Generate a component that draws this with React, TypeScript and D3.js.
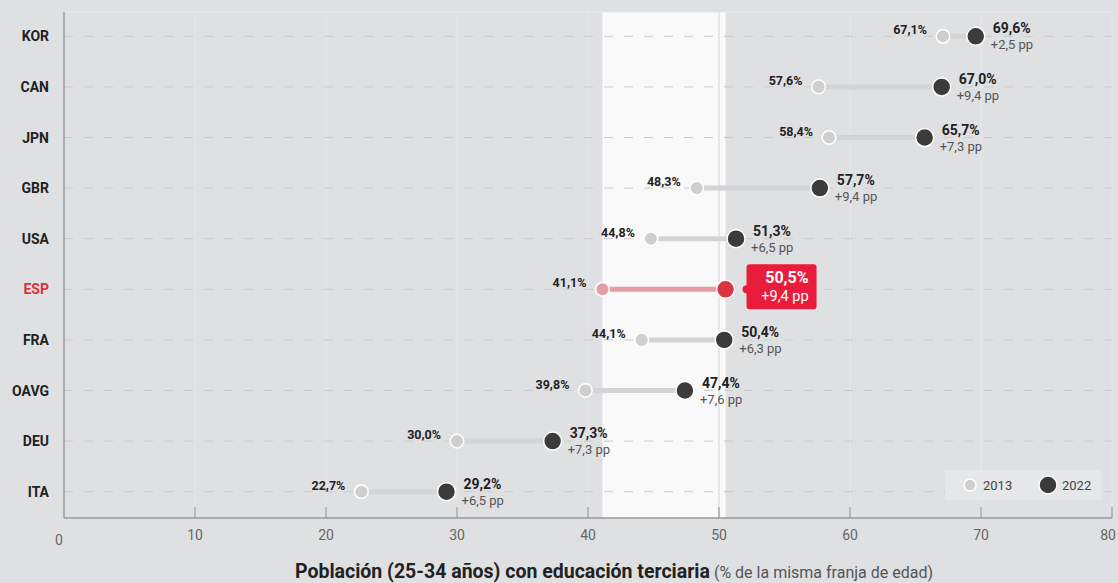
import React from "react";
import * as d3 from "d3";

const countries = ["KOR", "CAN", "JPN", "GBR", "USA", "ESP", "FRA", "OAVG", "DEU", "ITA"];
const values2013 = [67.1, 57.6, 58.4, 48.3, 44.8, 41.1, 44.1, 39.8, 30.0, 22.7];
const values2022 = [69.6, 67.0, 65.7, 57.7, 51.3, 50.5, 50.4, 47.4, 37.3, 29.2];
const deltas = [2.5, 9.4, 7.3, 9.4, 6.5, 9.4, 6.3, 7.6, 7.3, 6.5];
const xTicks = [0, 10, 20, 30, 40, 50, 60, 70, 80];
const highlight = "ESP";

const W = 1118;
const H = 583;
const FONT = "Roboto, 'Noto Sans', sans-serif";
const fmt = (v: number) => v.toFixed(1).replace(".", ",");

export default function App() {
  const x = d3.scaleLinear().domain([0, 80]).range([64, 1112]);
  const y = d3.scaleBand().domain(countries).range([11, 517]);
  const cy = (c: string) => (y(c) as number) + y.bandwidth() / 2;
  const top = 12;
  const bottom = 518;
  const hi = countries.indexOf(highlight);
  const last = xTicks[xTicks.length - 1];

  return (
    <svg width={W} height={H} style={{ position: "absolute", left: 0, top: 0, background: "#dfe0e2", fontFamily: FONT }}>
      <rect x={0} y={0} width={W} height={H} fill="#dfe0e2" />
      {/* highlight band */}
      <rect x={x(values2013[hi])} y={top} width={x(values2022[hi]) - x(values2013[hi])} height={bottom - top} fill="#f9f9fa" />
      {/* grid */}
      <line x1={x(0)} x2={x(80)} y1={top} y2={top} stroke="#e6e7e9" strokeWidth={1} />
      {xTicks.map((t) => (
        <line key={"g" + t} x1={x(t)} x2={x(t)} y1={top} y2={bottom} stroke="#e6e7e9" strokeWidth={1} />
      ))}
      <line x1={x(50)} x2={x(50)} y1={top} y2={bottom} stroke="#e3e4e6" strokeWidth={1.5} />
      {countries.map((c) => (
        <line key={"d" + c} x1={x(0)} x2={x(80)} y1={cy(c)} y2={cy(c)} stroke="#cacbcd" strokeWidth={1} strokeDasharray="9,11" />
      ))}
      {/* axes */}
      <line x1={x(0)} x2={x(0)} y1={top} y2={bottom} stroke="#9a9a9a" strokeWidth={1.5} />
      <line x1={x(0)} x2={x(80)} y1={bottom} y2={bottom} stroke="#9a9a9a" strokeWidth={1.5} />
      {xTicks.map((t) => (
        <g key={"t" + t}>
          {t > 0 && <line x1={x(t)} x2={x(t)} y1={bottom - 11} y2={bottom} stroke="#9a9a9a" strokeWidth={1.2} />}
          <text
            x={t === 0 ? x(t) - 5 : t === last ? x(t) + 4 : x(t)}
            y={t === 0 ? 545 : 540}
            textAnchor={t === last ? "end" : "middle"}
            fontSize={14}
            fill="#666"
          >
            {t}
          </text>
        </g>
      ))}
      {/* y labels */}
      {countries.map((c) => (
        <text key={"y" + c} x={49} y={cy(c) + 5} textAnchor="end" fontSize={14} fontWeight="bold" fill={c === highlight ? "#e0303c" : "#222"}>
          {c}
        </text>
      ))}
      {/* dumbbells */}
      {countries.map((c, i) => {
        const isHi = c === highlight;
        const yy = cy(c);
        const x1 = x(values2013[i]);
        const x2 = x(values2022[i]);
        return (
          <g key={"m" + c}>
            <line x1={x1} x2={x2} y1={yy} y2={yy} stroke={isHi ? "#e49ea3" : "#d3d4d6"} strokeWidth={5} />
            <circle cx={x1} cy={yy} r={6.8} fill={isHi ? "#e49ea3" : "#cfcfcf"} stroke="#fff" strokeWidth={1.5} />
            <circle cx={x2} cy={yy} r={9} fill={isHi ? "#dd3540" : "#3b3b3b"} stroke="#fff" strokeWidth={1.5} />
            <text x={x1 - 16} y={yy - 2} textAnchor="end" fontSize={12.5} fontWeight="bold" fill="#222">
              {fmt(values2013[i])}%
            </text>
            {isHi ? (
              <g>
                <circle cx={x2 + 21} cy={yy} r={4} fill="#ea1c3c" />
                <rect x={x2 + 21} y={yy - 25} width={70} height={45} rx={3} fill="#ea1c3c" />
                <text x={x2 + 83} y={yy - 6} textAnchor="end" fontSize={16} fontWeight="bold" fill="#fff">
                  {fmt(values2022[i])}%
                </text>
                <text x={x2 + 83} y={yy + 12} textAnchor="end" fontSize={14.5} fill="#fff">
                  +{fmt(deltas[i])} pp
                </text>
              </g>
            ) : (
              <g>
                <text x={x2 + 17} y={yy - 3} fontSize={14} fontWeight="bold" fill="#222">
                  {fmt(values2022[i])}%
                </text>
                <text x={x2 + 15} y={yy + 13} fontSize={13} fill="#555">
                  +{fmt(deltas[i])} pp
                </text>
              </g>
            )}
          </g>
        );
      })}
      {/* legend */}
      <rect x={945} y={470} width={156} height={30} fill="#e6e7e9" />
      <circle cx={970} cy={485} r={6} fill="#cfcfcf" stroke="#fff" strokeWidth={1.5} />
      <text x={983} y={490} fontSize={13} fill="#444">2013</text>
      <circle cx={1048} cy={485} r={9} fill="#3b3b3b" stroke="#fff" strokeWidth={1.5} />
      <text x={1062} y={490} fontSize={13} fill="#444">2022</text>
      {/* title */}
      <text x={614} y={578} textAnchor="middle" fill="#222">
        <tspan fontSize={19.5} fontWeight="bold">Población (25-34 años) con educación terciaria</tspan>
        <tspan fontSize={16} fill="#555"> (% de la misma franja de edad)</tspan>
      </text>
    </svg>
  );
}
